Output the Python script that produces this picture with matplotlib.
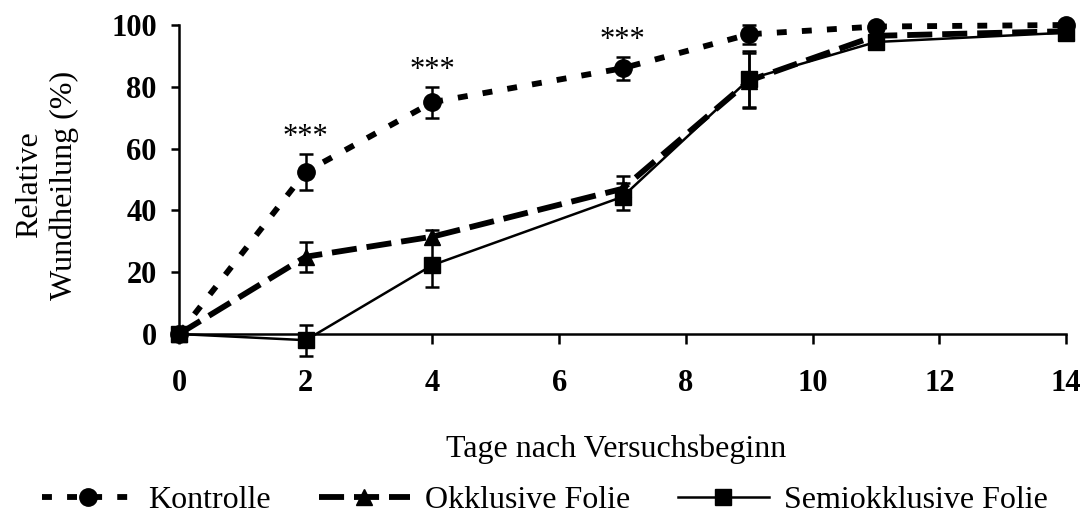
import matplotlib
matplotlib.use("Agg")
import matplotlib.pyplot as plt

days = [0, 2, 4, 7, 9, 11, 14]
kontrolle = [0, 52.5, 75, 86, 97, 99.5, 100]
kontrolle_err = [0, 5.8, 5, 3.8, 3, 0.8, 0.5]
okklusiv = [0, 25, 31.5, 47, 82, 96.5, 98]
okklusiv_err = [0, 4.8, 2, 4, 9, 1.5, 1]
semi = [0, -2, 22.3, 44.4, 82.5, 94.5, 97.5]
semi_err = [0, 5, 7, 4.4, 9, 1.5, 1]
sig_days = [2, 4, 7]
sig_label = "***"
series_names = ["Kontrolle", "Okklusive Folie", "Semiokklusive Folie"]
xticks = [0, 2, 4, 6, 8, 10, 12, 14]
yticks = [0, 20, 40, 60, 80, 100]

plt.rcParams['font.family'] = ['Liberation Serif', 'DejaVu Serif']

fig = plt.figure(figsize=(10.82, 5.14), dpi=100)
W, H = 1082, 514
ax = fig.add_axes([179 / W, (H - 334) / H, (1066 - 179) / W, (334 - 25) / H])

common = dict(color='black', ecolor='black', elinewidth=1.8, capsize=4.8,
              capthick=1.8, clip_on=False)

h3 = ax.errorbar(days, semi, yerr=semi_err, fmt='-', marker='s', markersize=11.5,
                 linewidth=1.8, zorder=3, **common)
h2 = ax.errorbar(days, okklusiv, yerr=okklusiv_err, fmt='-', marker='^',
                 markersize=12, linewidth=4.2, dashes=(4.3, 1.7), zorder=4, **common)
h1 = ax.errorbar(days, kontrolle, yerr=kontrolle_err, fmt='-', marker='o',
                 markersize=12.5, linewidth=4.2, dashes=(1.7, 2.6), zorder=5, **common)
for h in (h1, h2, h3):
    for art in h.lines[1] + h.lines[2]:
        art.set_clip_on(False)

for d in sig_days:
    i = days.index(d)
    ax.annotate(sig_label, xy=(d, kontrolle[i] + kontrolle_err[i]),
                xytext=(0, 1), textcoords='offset points',
                ha='center', va='bottom', fontsize=22)

ax.set_xlim(0, 14)
ax.set_ylim(0, 100)
ax.set_xticks(xticks)
ax.set_yticks(yticks)
ax.tick_params(axis='x', direction='out', length=7, width=1.8, pad=18,
               labelsize=22)
ax.tick_params(axis='y', direction='out', length=6, width=1.8, pad=10,
               labelsize=22)
for lab in ax.get_xticklabels() + ax.get_yticklabels():
    lab.set_fontweight('bold')
for s in ('top', 'right'):
    ax.spines[s].set_visible(False)
for s in ('left', 'bottom'):
    ax.spines[s].set_linewidth(1.8)

ax.set_xlabel("Tage nach Versuchsbeginn", fontsize=23)
ax.xaxis.label.set_va('center')
ax.xaxis.set_label_coords((616 - 179) / 887, (334 - 449) / 309)
ax.set_ylabel("Relative\nWundheilung (%)", fontsize=23, multialignment='center',
              linespacing=1.25)
ax.yaxis.label.set_va('center')
ax.yaxis.set_label_coords((47 - 179) / 887, (334 - 185) / 309)

fig.legend([h1[0], h2[0], h3[0]], series_names, loc='center left',
           bbox_to_anchor=(42 / W, (H - 500) / H), ncol=3, frameon=False,
           fontsize=23, handlelength=2.85, handletextpad=0.47,
           columnspacing=1.5, borderpad=0, borderaxespad=0)

fig.savefig("out.png", dpi=100)
